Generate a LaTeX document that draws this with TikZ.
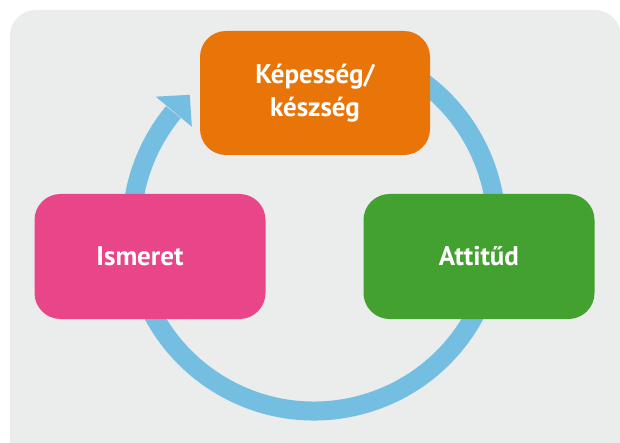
\documentclass[tikz,border=0pt]{standalone}
\usepackage{fontspec}
\setmainfont{PT Sans}
\definecolor{bgc}{HTML}{EBECEC}
\definecolor{ringc}{HTML}{74BFE1}
\definecolor{orangec}{HTML}{E97408}
\definecolor{pinkc}{HTML}{E9468A}
\definecolor{greenc}{HTML}{43A130}
\tikzset{
  box/.style={rounded corners=26pt, minimum width=231pt, minimum height=125pt, inner sep=0pt,
    text=white, font=\bfseries\fontsize{27}{33}\selectfont, align=center},
}
\begin{document}
\begin{tikzpicture}[x=1pt,y=1pt]
\useasboundingbox (0,0) rectangle (620,442);
\clip (0,0) rectangle (620,442);
\fill[bgc, rounded corners=26pt] (10,432) rectangle (621,-40);
\coordinate (c) at (314,213.5);
\draw[ringc, line width=19pt] ([shift={(60:182.5)}]c) arc[start angle=60, end angle=-219.6, radius=182.5];
\fill[ringc] ([shift={(140.2:206)}]c) -- ([shift={(132.9:182.5)}]c) -- ([shift={(140.2:159)}]c) -- cycle;
\node[box, fill=orangec, minimum width=230pt, minimum height=124pt] (kep) at (315,349) {Képesség/\\készség};
\node[box, fill=pinkc] (ism) at (150,185.5) {\hspace*{-20pt}Ismeret};
\node[box, fill=greenc] (att) at (479,185.5) {Attitűd};
\end{tikzpicture}
\end{document}
